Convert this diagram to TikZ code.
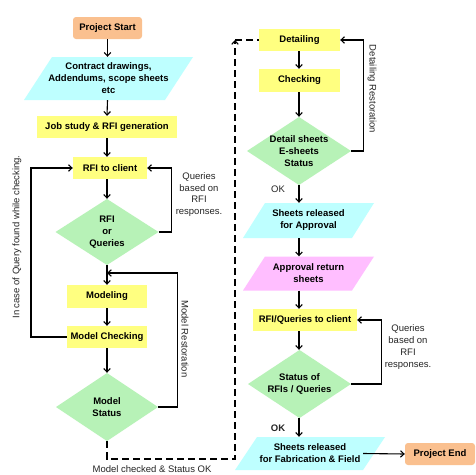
\documentclass[tikz,border=0pt]{standalone}
\usepackage{fontspec}
\setmainfont{Liberation Sans}
\usetikzlibrary{arrows.meta,calc}
\definecolor{cyanc}{RGB}{190,255,255}
\definecolor{yelc}{RGB}{255,255,128}
\definecolor{grnc}{RGB}{183,242,183}
\definecolor{pinkc}{RGB}{255,190,255}
\definecolor{orgc}{RGB}{250,192,143}
\begin{document}
\begin{tikzpicture}[x=1pt,y=-1pt,
  every node/.style={font=\fontsize{9.5}{12}\selectfont, text=black},
  term/.style={fill=orgc, rounded corners=3pt, font=\fontsize{9.5}{12}\selectfont\bfseries, minimum height=22pt, inner sep=0pt},
  box/.style={fill=yelc, font=\fontsize{9.5}{12}\selectfont\bfseries, minimum height=22pt, inner sep=0pt},
  dia/.style={path picture={\fill[grnc] (path picture bounding box.north) -- (path picture bounding box.east) -- (path picture bounding box.south) -- (path picture bounding box.west) -- cycle;},
    inner sep=0pt, align=center, font=\fontsize{9.5}{12}\selectfont\bfseries},
  para/.style 2 args={path picture={\fill[#1] ([xshift=#2]path picture bounding box.north west) -- (path picture bounding box.north east) -- ([xshift=-#2]path picture bounding box.south east) -- (path picture bounding box.south west) -- cycle;},
    inner sep=0pt, align=center, font=\fontsize{9.5}{12}\selectfont\bfseries},
  arr/.style={-{Straight Barb[length=3.5pt,width=6.5pt]}, line width=1.1pt},
  ln/.style={line width=1.1pt},
  dsh/.style={line width=1.1pt, dash pattern=on 7pt off 4pt},
  lbl/.style={align=center, text=black!85, inner sep=0pt, font=\fontsize{9.5}{11.7}\selectfont}
]
\useasboundingbox (0,0) rectangle (475,475);
\fill[white] (0,0) rectangle (475,475);

% left column
\node[term, minimum width=69pt] (start) at (107.5,28) {Project Start};
\node[para={cyanc}{28pt}, minimum width=169pt, minimum height=43pt] (contract) at (108.5,78.5) {Contract drawings,\\Addendums, scope sheets\\etc};
\node[box, minimum width=140pt] (job) at (107,127) {Job study \& RFI generation};
\node[box, minimum width=74pt] (rfi) at (110,168) {RFI to client};
\node[dia, minimum width=103pt, minimum height=66pt] (rfid) at (107,232) {RFI\\or\\Queries};
\node[box, minimum width=80pt, minimum height=23pt] (model) at (107,296.5) {Modeling};
\node[box, minimum width=80pt] (mc) at (107,337) {Model Checking};
\node[dia, minimum width=102pt, minimum height=68pt] (ms) at (107,407) {Model\\Status};
\coordinate (mj) at (107,273);

% right column
\node[box, minimum width=81pt] (det) at (299.5,40) {Detailing};
\node[box, minimum width=81pt, minimum height=23pt] (chk) at (299.5,80.5) {Checking};
\node[dia, minimum width=104pt, minimum height=68pt] (ds) at (299,151) {Detail sheets\\E-sheets\\Status};
\node[para={cyanc}{22pt}, minimum width=131pt, minimum height=35pt] (sra) at (308.5,220.5) {Sheets released\\for Approval};
\node[para={pinkc}{22pt}, minimum width=131pt, minimum height=34pt] (ars) at (308.5,273.5) {Approval return\\sheets};
\node[box, minimum width=104pt] (rfiq) at (305,320) {RFI/Queries to client};
\node[dia, minimum width=103pt, minimum height=68pt] (st) at (299.5,384) {Status of\\RFIs / Queries};
\node[para={cyanc}{22pt}, minimum width=150pt, minimum height=33pt] (fab) at (310,453.5) {Sheets released\\for Fabrication \& Field};
\node[term, minimum width=70pt] (pend) at (440,454) {Project End};
\coordinate (ax) at (299,0);
\coordinate (dc) at (235,40);

% left arrows
\draw[arr] (start.south) -- (start.south |- contract.north);
\draw[arr] (contract.south -| start) -- (job.north);
\draw[arr] (job.south) -- (job.south |- rfi.north);
\draw[arr] (rfi.south -| job) -- (rfid.north);
\draw[arr] (rfid.south) -- (model.north);
\draw[arr] (model.south) -- (mc.north);
\draw[arr] (mc.south) -- (ms.north);
\draw[arr] (rfid.east) -- ++(13,0) |- (rfi.east);
\draw[arr] (mc.west) -- (31,337) |- (rfi.west);
\draw[arr] (ms.east) -- ++(19,0) |- (mj);

% dashed link
\draw[dsh, -{Straight Barb[length=3.5pt,width=6.5pt]}] (ms.south) -- (107,459) -| (dc);
\draw[dsh] (dc) -- (det.west);

% right arrows
\draw[arr] (det.south -| ax) -- (chk.north -| ax);
\draw[arr] (chk.south -| ax) -- (ds.north -| ax);
\draw[arr] (ds.south -| ax) -- (sra.north -| ax);
\draw[arr] (sra.south -| ax) -- (ars.north -| ax);
\draw[arr] (ars.south -| ax) -- (rfiq.north -| ax);
\draw[arr] (rfiq.south -| ax) -- (st.north -| ax);
\draw[arr] (st.south -| ax) -- (fab.north -| ax);
\draw[arr] (ds.east) -- ++(12,0) |- (det.east);
\draw[arr] (st.east) -- ++(30,0) |- (rfiq.east);
\draw[arr] ([xshift=-22pt]fab.east) -- (pend.west);

% labels
\node[lbl, rotate=90] (l1) at (17,237) {In case of Query found while checking.};
\node[lbl] (l2) at (199,194.5) {Queries\\based on\\RFI\\responses.};
\node[lbl, rotate=-90] (l3) at (185,339) {Model Restoration};
\node[lbl] (l4) at (152,469) {Model checked \& Status OK};
\node[lbl, rotate=-90] (l5) at (372,89) {Detailing Restoration};
\node[lbl] (l6) at (278,189) {OK};
\node[lbl] (l7) at (408,347) {Queries\\based on\\RFI\\responses.};
\node[lbl, font=\fontsize{9.5}{12}\selectfont\bfseries] (l8) at (278,428) {OK};
\end{tikzpicture}
\end{document}
